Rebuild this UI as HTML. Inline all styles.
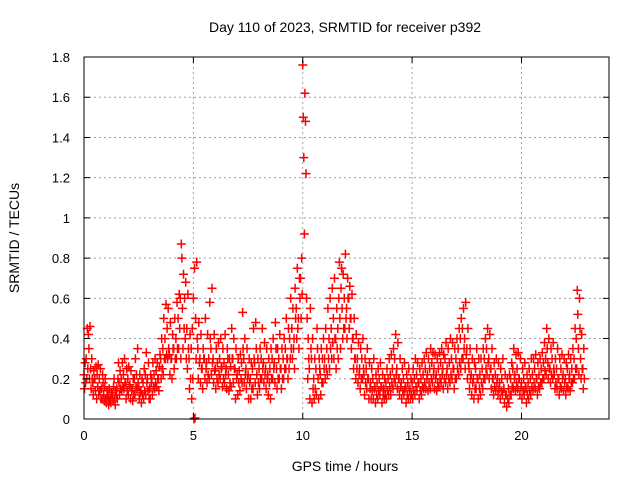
<!DOCTYPE html>
<html><head><meta charset="utf-8"><style>
body{margin:0;background:#fff;}
svg{display:block;font-family:"Liberation Sans",sans-serif;}
</style></head><body>
<svg id="chart" width="640" height="480">
<rect width="640" height="480" fill="#fff"/>
<g id="grid"></g>
<g id="points"></g>
<rect x="84" y="57" width="525" height="362" fill="none" stroke="#000" stroke-width="1"/>
<g id="ticks"></g>
<text x="345" y="32" font-size="14" text-anchor="middle">Day 110 of 2023, SRMTID for receiver p392</text>
<text x="345" y="471" font-size="14" text-anchor="middle">GPS time / hours</text>
<text transform="translate(19,238) rotate(-90)" font-size="14" text-anchor="middle">SRMTID / TECUs</text>
</svg>
<script>
const xTicks=[0,5,10,15,20];
const yTicks=[0,0.2,0.4,0.6,0.8,1,1.2,1.4,1.6,1.8];
const yTickLabels=["0","0.2","0.4","0.6","0.8","1","1.2","1.4","1.6","1.8"];
const startHour=0, stepHour=0.1;
const values=[
[.22,.15,.28,.18],[.3,.2,.45,.25],[.42,.35,.2,.46],[.25,.15,.3,.2],[.18,.12,.24,.2],[.2,.14,.26,.1],[.22,.16,.27,.12],[.2,.14,.25,.1],[.15,.1,.22,.18],[.12,.09,.16,.2],
[.1,.08,.14,.12],[.11,.07,.15,.09],[.1,.08,.13,.12],[.12,.09,.16,.2],[.1,.07,.14,.12],[.15,.1,.2,.28],[.18,.12,.24,.15],[.2,.14,.28,.16],[.22,.15,.3,.18],[.18,.1,.25,.14],
[.2,.12,.26,.16],[.17,.1,.24,.14],[.15,.09,.2,.12],[.2,.12,.3,.16],[.22,.15,.35,.18],[.16,.1,.22,.13],[.14,.08,.2,.12],[.18,.1,.25,.14],[.22,.12,.33,.18],[.2,.14,.28,.1],
[.15,.1,.22,.18],[.2,.12,.28,.16],[.22,.15,.3,.18],[.24,.16,.28,.2],[.2,.14,.26,.32],[.3,.2,.4,.25],[.35,.22,.5,.3],[.4,.3,.57,.32],[.45,.3,.55,.35],[.32,.22,.48,.3],
[.3,.2,.42,.35],[.35,.25,.5,.3],[.4,.3,.58,.35],[.5,.35,.62,.45],[.6,.3,.87,.8],[.55,.35,.72,.45],[.6,.4,.68,.3],[.45,.25,.62,.35],[.3,.15,.42,.2],[.35,.1,.45,.2],
[.6,0,.75,.005],[.5,.3,.78,.4],[.35,.2,.48,.28],[.3,.18,.42,.25],[.25,.15,.35,.3],[.3,.2,.5,.25],[.28,.18,.42,.22],[.3,.2,.58,.4],[.35,.22,.65,.28],[.3,.18,.42,.24],
[.25,.15,.35,.2],[.28,.18,.38,.22],[.3,.2,.4,.25],[.26,.16,.35,.2],[.28,.18,.42,.22],[.25,.15,.35,.3],[.22,.14,.3,.18],[.26,.16,.45,.3],[.3,.18,.4,.25],[.25,.1,.35,.2],
[.22,.12,.3,.18],[.24,.14,.32,.2],[.28,.18,.53,.35],[.3,.18,.4,.22],[.25,.15,.35,.2],[.22,.1,.3,.18],[.2,.1,.28,.15],[.25,.15,.45,.3],[.28,.18,.48,.35],[.22,.12,.3,.18],
[.25,.15,.35,.2],[.3,.2,.45,.25],[.28,.18,.38,.22],[.25,.15,.35,.2],[.22,.12,.3,.18],[.25,.1,.35,.2],[.3,.2,.4,.25],[.28,.18,.48,.35],[.25,.15,.35,.2],[.3,.2,.42,.25],
[.25,.15,.35,.2],[.3,.2,.4,.25],[.35,.25,.5,.3],[.3,.2,.45,.25],[.4,.3,.6,.35],[.45,.3,.55,.35],[.4,.25,.65,.5],[.55,.4,.75,.45],[.5,.35,.7,.6],[.7,.5,.8,.62],
[1.76,1.5,1.3,.92],[1.62,1.48,1.22,.6],[.5,.2,.4,.3],[.25,.1,.55,.35],[.3,.08,.4,.15],[.2,.1,.3,.15],[.25,.12,.45,.35],[.2,.1,.3,.25],[.22,.12,.35,.18],[.3,.18,.4,.25],
[.3,.2,.45,.25],[.35,.22,.55,.3],[.4,.25,.6,.35],[.45,.3,.65,.38],[.5,.3,.7,.4],[.4,.25,.55,.35],[.45,.3,.6,.78],[.5,.35,.65,.75],[.55,.4,.72,.45],[.6,.45,.82,.5],
[.55,.4,.7,.6],[.6,.45,.66,.5],[.5,.35,.62,.4],[.4,.25,.5,.3],[.3,.2,.42,.25],[.3,.18,.38,.22],[.25,.15,.35,.2],[.3,.2,.4,.25],[.22,.12,.3,.18],[.25,.15,.35,.2],
[.2,.1,.28,.15],[.18,.1,.25,.14],[.2,.1,.3,.15],[.16,.08,.22,.12],[.18,.1,.25,.14],[.2,.12,.28,.16],[.16,.08,.22,.12],[.15,.1,.2,.12],[.18,.1,.25,.14],[.2,.12,.3,.16],
[.22,.12,.32,.18],[.25,.15,.35,.2],[.3,.18,.42,.22],[.25,.15,.38,.2],[.2,.12,.3,.16],[.18,.1,.25,.14],[.2,.12,.28,.15],[.16,.08,.22,.12],[.18,.1,.25,.14],[.15,.1,.2,.12],
[.18,.1,.25,.14],[.2,.12,.3,.16],[.22,.14,.28,.18],[.18,.1,.25,.14],[.2,.12,.28,.16],[.22,.15,.3,.18],[.25,.15,.33,.2],[.22,.14,.3,.18],[.25,.15,.35,.2],[.28,.18,.33,.22],
[.25,.15,.32,.2],[.22,.14,.3,.18],[.25,.16,.33,.2],[.28,.18,.35,.22],[.25,.15,.32,.2],[.3,.18,.38,.22],[.25,.15,.35,.2],[.28,.18,.4,.22],[.3,.2,.38,.25],[.25,.15,.35,.2],
[.3,.2,.4,.25],[.35,.22,.45,.28],[.4,.25,.5,.3],[.45,.3,.55,.35],[.4,.25,.58,.32],[.35,.2,.45,.28],[.25,.15,.35,.2],[.22,.12,.3,.18],[.2,.1,.28,.15],[.25,.15,.35,.2],
[.2,.1,.3,.15],[.22,.12,.3,.18],[.25,.15,.35,.2],[.3,.2,.4,.25],[.35,.22,.45,.28],[.3,.2,.42,.25],[.25,.15,.35,.2],[.2,.12,.28,.16],[.22,.14,.3,.18],[.2,.12,.28,.15],
[.18,.1,.25,.14],[.2,.12,.3,.15],[.15,.08,.22,.12],[.12,.06,.2,.1],[.15,.08,.22,.12],[.2,.12,.28,.16],[.25,.15,.35,.2],[.22,.14,.32,.18],[.25,.15,.33,.2],[.2,.12,.3,.16],
[.18,.1,.25,.14],[.2,.12,.28,.16],[.15,.08,.22,.12],[.18,.1,.25,.14],[.2,.12,.3,.16],[.22,.14,.3,.18],[.25,.15,.32,.2],[.2,.12,.28,.16],[.22,.15,.3,.18],[.25,.18,.33,.2],
[.28,.2,.38,.24],[.3,.22,.45,.35],[.28,.2,.4,.25],[.25,.18,.35,.22],[.3,.2,.38,.25],[.22,.15,.3,.18],[.25,.15,.35,.2],[.2,.12,.3,.16],[.25,.15,.32,.2],[.22,.14,.3,.18],
[.2,.12,.28,.16],[.25,.15,.32,.2],[.22,.14,.3,.18],[.25,.18,.35,.2],[.3,.2,.45,.25],[.4,.25,.64,.52],[.35,.22,.6,.45],[.3,.2,.42,.25],[.25,.15,.35,.2]
];
const X0=84,X1=609,Y0=419,Y1=57,XMAX=24,YMAX=1.8;
const xs=v=>X0+(X1-X0)*v/XMAX;
const ys=v=>Y0-(Y0-Y1)*v/YMAX;
const NS="http://www.w3.org/2000/svg";
const grid=document.getElementById('grid'),ticks=document.getElementById('ticks'),pts=document.getElementById('points');
function mk(tag,attrs,parent){const e=document.createElementNS(NS,tag);for(const k in attrs)e.setAttribute(k,attrs[k]);parent.appendChild(e);return e;}
xTicks.forEach(t=>{
  const x=xs(t);
  if(t>0){const g=mk('line',{x1:x,x2:x,y1:Y0,y2:Y1,stroke:'#a0a0a0','stroke-dasharray':'2,3'},grid);
  
  }
  const tk=mk('path',{d:`M${x},${Y0}v-6M${x},${Y1}v6`,stroke:'#000'},ticks);
  
  
  const lb=mk('text',{x:x,y:Y0+21,'font-size':13,'text-anchor':'middle',fill:'#000'},ticks);lb.textContent=t;
  
  
});
yTicks.forEach((t,i)=>{
  const y=ys(t);
  if(t>0&&t<YMAX){const g=mk('line',{x1:X0,x2:X1,y1:y,y2:y,stroke:'#a0a0a0','stroke-dasharray':'2,3'},grid);
  
  }
  const tk=mk('path',{d:`M${X0},${y}h6M${X1},${y}h-6`,stroke:'#000'},ticks);
  
  
  const lb=mk('text',{x:X0-14,y:y+5,'font-size':13,'text-anchor':'end',fill:'#000'},ticks);lb.textContent=yTickLabels[i];
  
  
});
let d='';
values.forEach((grp,i)=>{
  grp.forEach((v,j)=>{
    const x=xs(startHour+i*stepHour+j*0.025), y=ys(v);
    d+=`M${(x-4.5).toFixed(1)},${y.toFixed(1)}h9M${x.toFixed(1)},${(y-4.5).toFixed(1)}v9`;
  });
});
const p=mk('path',{d:d,stroke:'#ff0000','stroke-width':1.5,fill:'none'},pts);


</script>
</body></html>
